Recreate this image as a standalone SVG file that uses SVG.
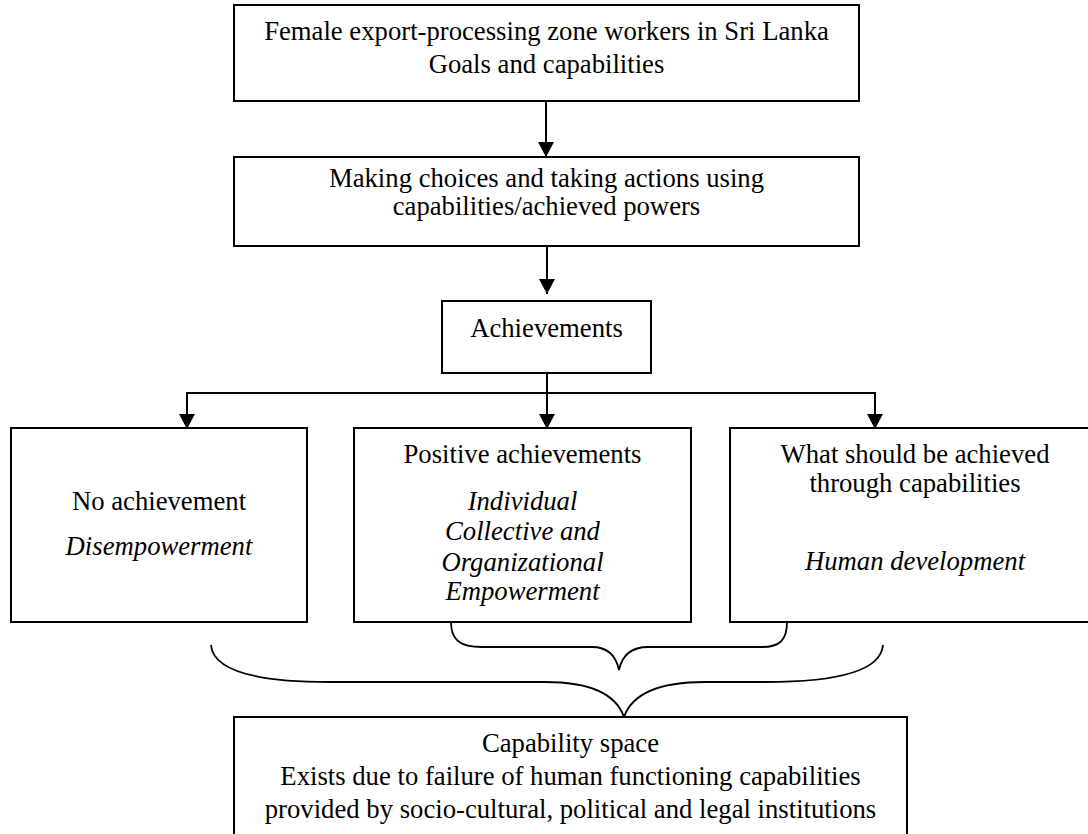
<svg xmlns="http://www.w3.org/2000/svg" width="1088" height="834" viewBox="0 0 1088 834">
  <style>
    .box { fill: #ffffff; stroke: #000000; stroke-width: 2; }
    .t { font-family: "Liberation Serif", "Times New Roman", serif; font-size: 26.7px; fill: #000000; text-anchor: middle; }
    .i { font-style: italic; }
    .link { fill: none; stroke: #000000; stroke-width: 2; }
    .brace { fill: none; stroke: #000000; stroke-width: 1.8; }
  </style>
  <defs>
    <marker id="arrow" markerUnits="userSpaceOnUse" markerWidth="16" markerHeight="16" refX="15" refY="8" orient="auto">
      <path d="M0,0 L15,8 L0,16 Z" fill="#000000"/>
    </marker>
  </defs>
  <rect width="1088" height="834" fill="#ffffff"/>

  <!-- connectors -->
  <g id="connectors">
    <path class="link" d="M546,101 L546,157" marker-end="url(#arrow)"/>
    <path class="link" d="M547,246 L547,294" marker-end="url(#arrow)"/>
    <path class="link" d="M547,373 L547,429" marker-end="url(#arrow)"/>
    <path class="link" d="M547,393 L187,393 L187,429" marker-end="url(#arrow)"/>
    <path class="link" d="M547,393 L875,393 L875,429" marker-end="url(#arrow)"/>
    <!-- brace joining the middle and right outcomes -->
    <path class="brace" d="M451,622 C451,640 460,647 482,647 L592,647 C608,647 616,656 619,670 C622,656 630,647 648,647 L762,647 C780,647 787,640 787,622"/>
    <!-- brace gathering all outcomes into the capability space -->
    <path class="brace" d="M211,645 C213,670 255,682 330,682 L545,682 C590,682 616,694 624,717 C632,694 660,682 705,682 L765,682 C840,682 881,670 883,645"/>
  </g>

  <g id="goals">
    <rect class="box" x="234" y="5" width="625" height="96"/>
    <text class="t" x="546.5" y="40">Female export-processing zone workers in Sri Lanka</text>
    <text class="t" x="546.5" y="73">Goals and capabilities</text>
  </g>

  <g id="choices">
    <rect class="box" x="234" y="157" width="625" height="89"/>
    <text class="t" x="546.5" y="187">Making choices and taking actions using</text>
    <text class="t" x="546.5" y="215">capabilities/achieved powers</text>
  </g>

  <g id="achievements">
    <rect class="box" x="442" y="301" width="209" height="72"/>
    <text class="t" x="546.5" y="337">Achievements</text>
  </g>

  <g id="no-achievement">
    <rect class="box" x="11" y="428" width="296" height="194"/>
    <text class="t" x="159" y="510">No achievement</text>
    <text class="t i" x="159" y="555">Disempowerment</text>
  </g>

  <g id="positive-achievements">
    <rect class="box" x="354" y="428" width="337" height="194"/>
    <text class="t" x="522.5" y="463">Positive achievements</text>
    <text class="t i" x="522.5" y="510">Individual</text>
    <text class="t i" x="522.5" y="540">Collective and</text>
    <text class="t i" x="522.5" y="571">Organizational</text>
    <text class="t i" x="522.5" y="600">Empowerment</text>
  </g>

  <g id="should-be-achieved">
    <rect class="box" x="730" y="428" width="370" height="194"/>
    <text class="t" x="915" y="463">What should be achieved</text>
    <text class="t" x="915" y="492">through capabilities</text>
    <text class="t i" x="915" y="570">Human development</text>
  </g>

  <g id="capability-space">
    <rect class="box" x="234" y="717" width="673" height="130"/>
    <text class="t" x="570.5" y="752">Capability space</text>
    <text class="t" x="570.5" y="785">Exists due to failure of human functioning capabilities</text>
    <text class="t" x="570.5" y="818">provided by socio-cultural, political and legal institutions</text>
  </g>
</svg>
